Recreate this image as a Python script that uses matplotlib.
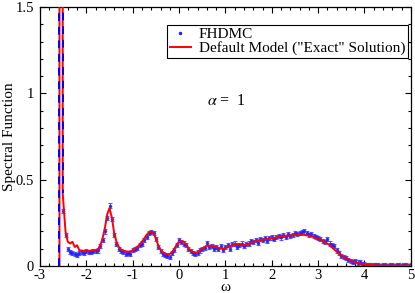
import numpy as np
import matplotlib
matplotlib.use("Agg")
import matplotlib.pyplot as plt
from matplotlib.ticker import MultipleLocator

# ---------------- data ----------------
omega_start = -2.50
omega_step = 0.05

exact_vals = [
    0.40, 0.20, 0.14, 0.13, 0.14, 0.11, 0.12, 0.09, 0.09, 0.085,
    0.09, 0.085, 0.09, 0.09, 0.09, 0.095, 0.12, 0.16, 0.22, 0.30,
    0.335, 0.28, 0.19, 0.14, 0.11, 0.095, 0.088, 0.085, 0.083, 0.085,
    0.09, 0.10, 0.11, 0.125, 0.14, 0.16, 0.18, 0.195, 0.20, 0.19,
    0.16, 0.12, 0.095, 0.08, 0.072, 0.068, 0.07, 0.08, 0.10, 0.125,
    0.14, 0.145, 0.14, 0.125, 0.105, 0.09, 0.08, 0.077, 0.08, 0.088,
    0.10, 0.11, 0.117, 0.118, 0.117, 0.115, 0.11, 0.105, 0.10, 0.10,
    0.102, 0.108, 0.115, 0.12, 0.125, 0.127, 0.125, 0.122, 0.12, 0.122,
    0.127, 0.133, 0.14, 0.145, 0.148, 0.15, 0.152, 0.155, 0.157, 0.158,
    0.16, 0.162, 0.165, 0.168, 0.171, 0.173, 0.175, 0.176, 0.177, 0.178,
    0.179, 0.18, 0.18, 0.181, 0.18, 0.178, 0.175, 0.172, 0.168, 0.163,
    0.158, 0.152, 0.145, 0.137, 0.13, 0.12, 0.108, 0.095, 0.083, 0.072,
    0.062, 0.053, 0.045, 0.038, 0.032, 0.027, 0.022, 0.018, 0.015, 0.012,
    0.010, 0.008, 0.006, 0.005, 0.004, 0.004, 0.003, 0.003, 0.003, 0.003,
    0.003, 0.003, 0.003, 0.003, 0.003, 0.003, 0.003, 0.003, 0.003, 0.003,
    0.003,
]

fhdmc_vals = [
    0.32, 0.18, 0.10, 0.08, 0.075, 0.07, 0.065, 0.075, 0.08, 0.078,
    0.085, 0.08, 0.083, 0.087, 0.085, 0.09, 0.115, 0.15, 0.20, 0.28,
    0.35, 0.27, 0.18, 0.125, 0.10, 0.085, 0.08, 0.07, 0.075, 0.07,
    0.095, 0.10, 0.105, 0.12, 0.13, 0.15, 0.17, 0.19, 0.195, 0.19,
    0.155, 0.11, 0.085, 0.07, 0.065, 0.06, 0.052, 0.075, 0.095, 0.12,
    0.15, 0.14, 0.13, 0.12, 0.10, 0.085, 0.075, 0.07, 0.078, 0.09,
    0.10, 0.105, 0.135, 0.11, 0.115, 0.10, 0.11, 0.098, 0.118, 0.095,
    0.11, 0.12, 0.098, 0.125, 0.13, 0.11, 0.12, 0.13, 0.115, 0.125,
    0.13, 0.145, 0.14, 0.15, 0.135, 0.155, 0.15, 0.16, 0.145, 0.16,
    0.165, 0.155, 0.17, 0.175, 0.165, 0.18, 0.17, 0.185, 0.175, 0.18,
    0.19, 0.185, 0.19, 0.195, 0.20, 0.19, 0.18, 0.185, 0.175, 0.17,
    0.16, 0.155, 0.145, 0.14, 0.155, 0.13, 0.12, 0.115, 0.09, 0.075,
    0.06, 0.05, 0.045, 0.035, 0.03, 0.025, 0.03, 0.02, 0.022, 0.012,
    0.010, 0.008, 0.005, 0.004, 0.006, 0.003, 0.004, 0.002, 0.004, 0.003,
    0.002, 0.004, 0.003, 0.002, 0.003, 0.004, 0.002, 0.003, 0.003, 0.002,
    0.003,
]
fhdmc_err = 0.012

# quasiparticle delta peak (off scale)
delta_omega = [-2.58, -2.58, -2.51, -2.51]
delta_vals = [0.0, 20.0, 20.0, 0.42]

xticks = [-3, -2, -1, 0, 1, 2, 3, 4, 5]
yticks = [0, 0.5, 1, 1.5]
ytick_labels = ["0", "0.5", "1", "1.5"]

# ---------------- plot ----------------
plt.rcParams['font.family'] = ['Liberation Serif', 'DejaVu Serif']
plt.rcParams['mathtext.fontset'] = 'stix'
plt.rcParams['axes.unicode_minus'] = False

fig = plt.figure(figsize=(4.15, 2.93), dpi=100)
ax = fig.add_axes([0.0964, 0.0922, 0.8936, 0.8840])

omega_exact = omega_start + omega_step * np.arange(len(exact_vals))
omega_fhdmc = omega_start + omega_step * np.arange(len(fhdmc_vals))

# delta peak: red line with blue dashes on top
ax.plot(delta_omega + list(omega_exact[1:]), delta_vals + list(exact_vals[1:]),
        color='red', lw=1.4, zorder=3)
ax.plot(delta_omega, delta_vals, color='blue', lw=1.4, dashes=(4, 3), zorder=4)

ax.errorbar(omega_fhdmc, fhdmc_vals, yerr=fhdmc_err, fmt='o', ms=1.5,
            color='#2020ff', ecolor='#4040ff', elinewidth=0.8, capsize=1.5,
            capthick=0.8, alpha=0.85, zorder=2)

# legend handles
h1, = ax.plot([], [], 'o', ms=1.5, color='#2020ff', label='FHDMC')
h2, = ax.plot([], [], '-', color='red', lw=1.4,
              label='Default Model ("Exact" Solution)')
leg = ax.legend(handles=[h1, h2], loc='upper right',
                bbox_to_anchor=(0.993, 0.932), fontsize=11, frameon=True,
                fancybox=False, edgecolor='black', framealpha=1,
                borderpad=0.2, labelspacing=0.0, handlelength=1.4,
                handletextpad=0.5, borderaxespad=0.0)
leg.get_frame().set_linewidth(0.8)

ax.text(0.6, 0.955, r'$\alpha$ =  1', fontsize=11.5, va='center', ha='left')

ax.set_xlim(-3, 5)
ax.set_ylim(0, 1.5)
ax.set_xticks(xticks)
ax.set_xticklabels([str(t) for t in xticks])
ax.set_yticks(yticks)
ax.set_yticklabels(ytick_labels)
ax.xaxis.set_minor_locator(MultipleLocator(0.2))
ax.yaxis.set_minor_locator(MultipleLocator(0.1))
ax.tick_params(which='both', direction='in', top=True, right=True,
               labelsize=10.5, width=0.8)
ax.tick_params(axis='x', which='major', pad=2.5)
ax.tick_params(axis='y', which='major', pad=4.5)
ax.tick_params(which='major', length=4.5)
ax.tick_params(which='minor', length=2.5)
for s in ax.spines.values():
    s.set_linewidth(0.9)

ax.set_xlabel('ω', fontsize=11, labelpad=-1)
ax.set_ylabel('Spectral Function', fontsize=11)
ax.yaxis.set_label_coords(-0.066, 0.5)

fig.savefig('out.png', dpi=100)
